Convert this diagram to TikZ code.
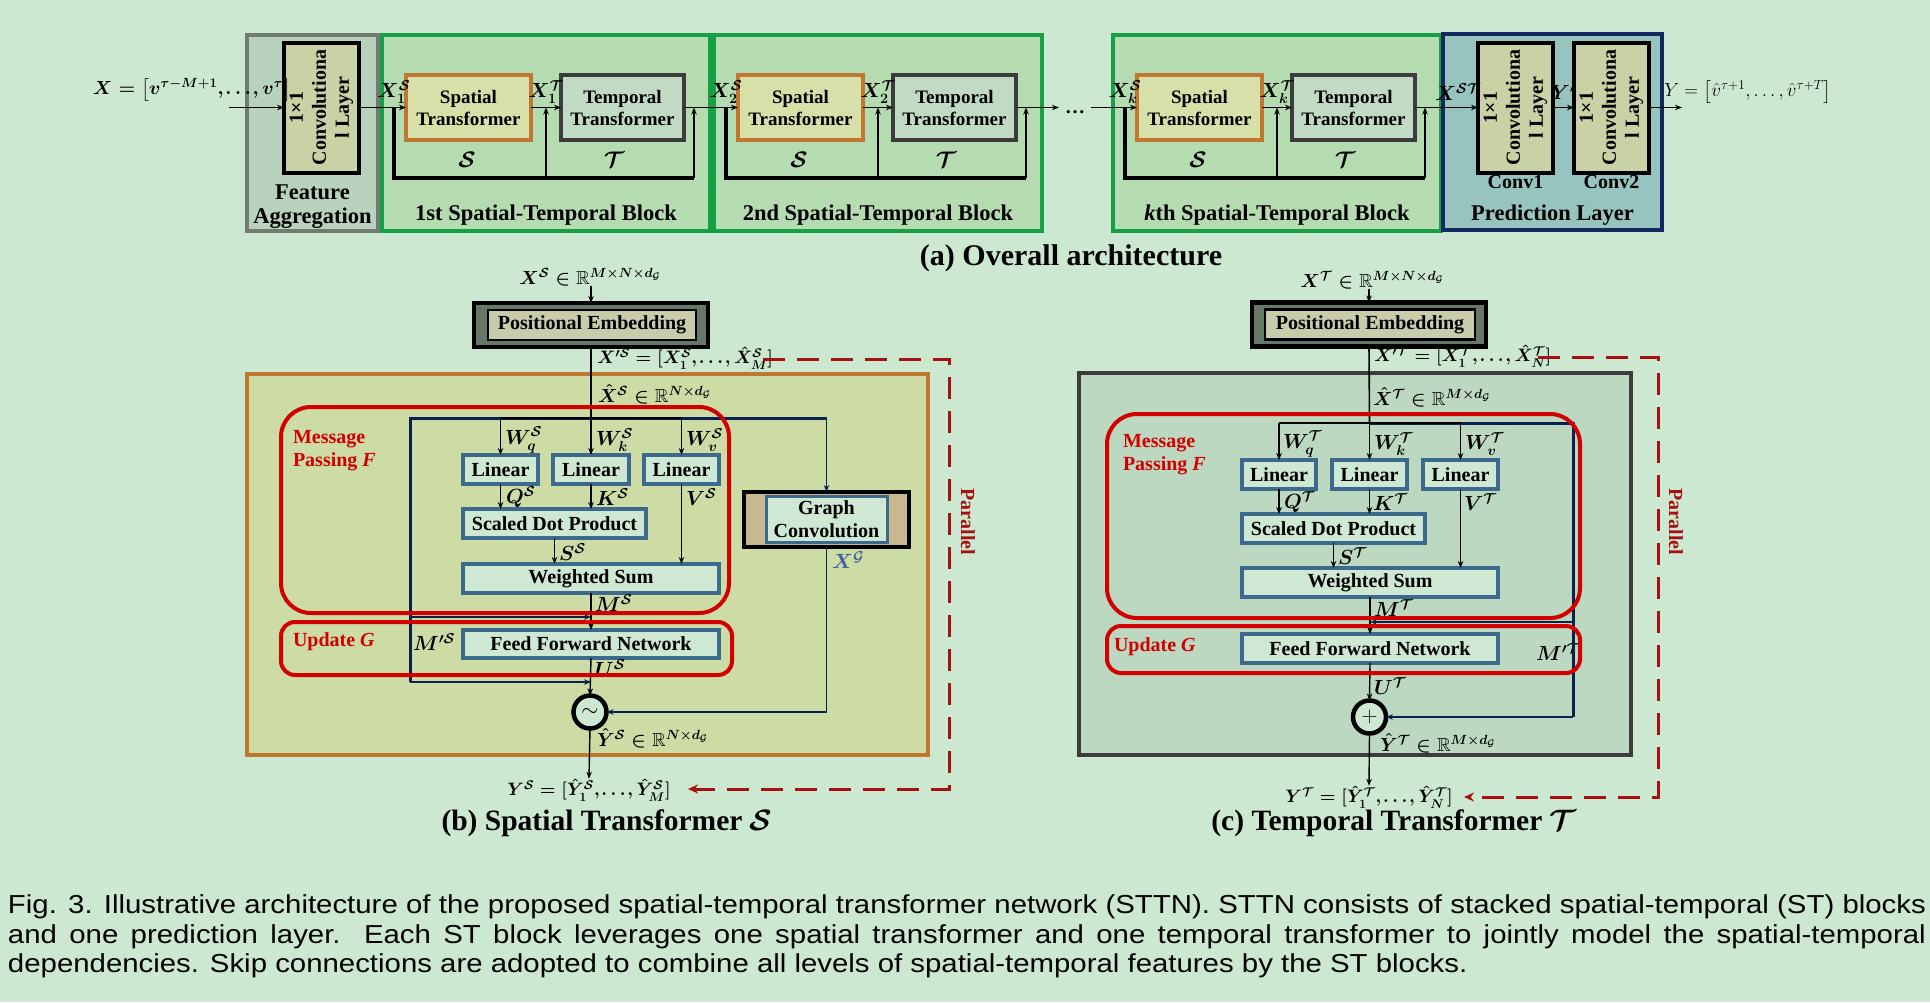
\RequirePackage{fix-cm}
\documentclass[tikz,border=0pt]{standalone}
\usepackage{amsmath,amssymb}
\usepackage{fontspec}
\setmainfont{Liberation Serif}
\newfontfamily\capfont{Liberation Sans}[FakeStretch=1.13]
\usetikzlibrary{arrows.meta}

\definecolor{bgc}{RGB}{205,232,208}
\definecolor{blockfill}{RGB}{181,219,176}
\definecolor{blockc}{RGB}{22,160,70}
\definecolor{fafill}{RGB}{184,210,190}
\definecolor{fac}{RGB}{112,124,112}
\definecolor{convfill}{RGB}{200,210,165}
\definecolor{sfill}{RGB}{214,224,168}
\definecolor{sborder}{RGB}{192,120,48}
\definecolor{tfill}{RGB}{192,218,196}
\definecolor{tborder}{RGB}{60,60,60}
\definecolor{predfill}{RGB}{152,196,192}
\definecolor{predc}{RGB}{20,40,96}
\definecolor{spfill}{RGB}{204,220,164}
\definecolor{tpfill}{RGB}{188,216,192}
\definecolor{linfill}{RGB}{206,232,212}
\definecolor{linborder}{RGB}{60,106,140}
\definecolor{redc}{RGB}{210,0,0}
\definecolor{navyc}{RGB}{10,32,80}
\definecolor{dashc}{RGB}{165,16,16}
\definecolor{posouter}{RGB}{104,120,104}
\definecolor{posinner}{RGB}{200,204,170}
\definecolor{gcfill}{RGB}{200,184,144}
\definecolor{xgblue}{RGB}{58,96,160}

% compact ellipsis for the bracketed sequences
\newcommand{\ddd}{\mkern-1.5mu\ldots\mkern-1.5mu}

\tikzset{
  every node/.append style={inner sep=0pt, outer sep=0pt},
  f18/.style={font=\fontsize{18}{21}\selectfont\bfseries\boldmath},
  f19/.style={font=\fontsize{19}{22}\selectfont\bfseries\boldmath},
  f20/.style={font=\fontsize{20}{23}\selectfont\bfseries\boldmath},
  f21/.style={font=\fontsize{20.5}{24}\selectfont\bfseries\boldmath},
  f22/.style={font=\fontsize{22.5}{26}\selectfont\bfseries\boldmath},
  f30/.style={font=\fontsize{29.5}{33}\selectfont\bfseries\boldmath},
  capf/.style={font=\capfont\fontsize{26}{30}\selectfont},
  redtxt/.style={f20, text=redc, align=left},
  arr/.style={draw=black, line width=1.4pt, -{Stealth[length=7pt,width=5.5pt]}},
  mainline/.style={draw=black, line width=1.6pt},
  navyarr/.style={draw=navyc, line width=1.5pt, -{Stealth[length=7pt,width=5.5pt]}},
  navythick/.style={draw=navyc, line width=3pt},
  skipline/.style={draw=black, line width=4pt},
  dashline/.style={draw=dashc, line width=3pt, dash pattern=on 22pt off 12pt},
  dasharr/.style={dashline, -{Stealth[length=10pt,width=9pt]}},
  fabox/.style={draw=fac, fill=fafill, line width=3.5pt, minimum width=131pt, minimum height=196pt},
  blockbox/.style={draw=blockc, fill=blockfill, line width=3.5pt, minimum width=328pt, minimum height=196pt},
  predbox/.style={draw=predc, fill=predfill, line width=3.5pt, minimum width=219pt, minimum height=196pt},
  sbox/.style={draw=sborder, fill=sfill, line width=3.5pt, minimum width=125pt, minimum height=65pt, align=center, f19},
  tbox/.style={draw=tborder, fill=tfill, line width=3.5pt, minimum width=123pt, minimum height=65pt, align=center, f19},
  convbox/.style={draw=black, fill=convfill, line width=4pt, minimum width=75pt, minimum height=130pt},
  convtxt/.style={rotate=90, align=center, font=\fontsize{20}{23}\selectfont\bfseries},
  linbox/.style={draw=linborder, fill=linfill, line width=3.5pt, minimum height=29pt, f20},
  peouter/.style={draw=black, fill=posouter, line width=4.5pt, minimum width=234pt, minimum height=44pt},
  peinner/.style={draw=black, fill=posinner, line width=2.5pt, minimum width=208pt, minimum height=30pt, f20},
  redbox/.style={draw=redc, line width=4pt},
  circ/.style={circle, draw=black, fill=linfill, line width=4.5pt, minimum size=33pt, font=\fontsize{22}{22}\selectfont},
  lab/.style={f21, anchor=west},
  parlab/.style={f20, text=dashc, rotate=-90},
}

% one spatial-temporal block of the stack: #1 left edge, #2 name, #3 index, #4 title
\newcommand{\stblock}[4]{%
  \node[blockbox] (#2) at ({#1+164},133) {};
  \node[sbox] (#2s) at ({#1+86.5},107.5) {Spatial\\Transformer};
  \node[tbox] (#2t) at ({#1+240.5},107.5) {Temporal\\Transformer};
  \node[f22] (#2n) at ({#1+164},215) {#4};
  \node[f22] (#2ls) at ({#1+85},160) {$\mathcal{S}$};
  \node[f22] (#2lt) at ({#1+232},160) {$\mathcal{T}$};
  \node[f21] (#2xs) at ({#1+12},92) {$X^{\mathcal{S}}_{#3}$};
  \node[f21] (#2xt) at ({#1+164},92) {$X^{\mathcal{T}}_{#3}$};
  \coordinate (#2a) at ({#1+12},107.5);
  \coordinate (#2b) at ({#1+12},178);
  \coordinate (#2c) at ({#1+312},178);
  \coordinate (#2m) at ({#1+164},178);
  \draw[skipline, line join=miter] (#2a) -- (#2b) -- (#2c);
  \draw[arr] (#2c) -- (#2c |- #2t.east);
  \draw[arr] (#2m) -- (#2m |- #2s.east);
  \draw[arr] (#2s.east) -- (#2t.west);
}

\begin{document}
\begin{tikzpicture}[x=1pt,y=-1pt]
\path[use as bounding box, fill=bgc] (0,0) rectangle (1930,1002);

% ===================== (a) overall architecture =====================
\node[fabox] (fa) at (312.5,133) {};
\node[convbox] (fac) at (321.5,107.5) {};
\node[convtxt] (factxt) at (fac) {1×1\\Convolutiona\\l Layer};
\node[f22] (fat1) at (312.5,192) {Feature};
\node[f22] (fat2) at (312.5,218) {Aggregation};
\node[f19] (xin) at (192,90) {$X=\big[v^{\tau-M+1},\ddd,v^{\tau}\big]$};
\coordinate (inpt) at (229,107.5);
\draw[arr] (inpt) -- (fac.west);

\stblock{382}{b1}{1}{1st Spatial-Temporal Block}
\stblock{714}{b2}{2}{2nd Spatial-Temporal Block}
\stblock{1113}{bk}{k}{\textit{k}th Spatial-Temporal Block}

\node[predbox] (pl) at (1552.5,132) {};
\node[convbox] (p1) at (1515.5,107.5) {};
\node[convtxt] (p1txt) at (p1) {1×1\\Convolutiona\\l Layer};
\node[convbox] (p2) at (1611.5,107.5) {};
\node[convtxt] (p2txt) at (p2) {1×1\\Convolutiona\\l Layer};
\node[f20] (pc1) at (1515.5,182) {Conv1};
\node[f20] (pc2) at (1611.5,182) {Conv2};
\node[f22] (pln) at (1552.5,215) {Prediction Layer};
\node[f21] (xst) at (1458,92) {$X^{\mathcal{S}\mathcal{T}}$};
\node[f21] (yp) at (1563,92) {$Y'$};
\node[font=\fontsize{19}{22}\selectfont] (yout) at (1748,92) {$Y=\big[\hat{v}^{\tau+1},\dots,\hat{v}^{\tau+T}\big]$};
\coordinate (outpt) at (1682,107.5);

\draw[arr] (fac.east) -- (b1s.west);
\draw[arr] (b1t.east) -- (b2s.west);
\node[f20, inner xsep=6pt, anchor=base] (dots) at (1075,113) {\dots};
\draw[arr] (b2t.east) -- (dots.west |- b2t.east);
\draw[arr] (dots.east |- bks.west) -- (bks.west);
\draw[arr] (bkt.east) -- (p1.west);
\draw[arr] (p1.east) -- (p2.west);
\draw[arr] (p2.east) -- (outpt);

\node[font=\fontsize{30}{33}\selectfont\bfseries] (capa) at (1071,258) {(a) Overall architecture};

% ===================== (b) spatial transformer =====================
\node[f19] (xsb) at (590,277) {$X^{\mathcal{S}}\in\mathbb{R}^{M\times N\times d_{\mathcal{G}}}$};
\node[peouter] (peb) at (591,325) {};
\node[peinner] (pebi) at (592,325) {Positional Embedding};
\draw[arr] (peb.north |- xsb.south) -- (peb.north);
\node[draw=sborder, fill=spfill, line width=3.5pt, minimum width=681pt, minimum height=381pt] (spb) at (587.5,564.5) {};

\node[linbox, minimum width=75pt] (lb1) at (500.5,469.5) {Linear};
\node[linbox, minimum width=76pt] (lb2) at (591,469.5) {Linear};
\node[linbox, minimum width=75pt] (lb3) at (681.5,469.5) {Linear};
\node[linbox, minimum width=183pt] (sdpb) at (554.5,523.5) {Scaled Dot Product};
\node[linbox, minimum width=256pt] (wsb) at (591,578.5) {Weighted Sum};
\node[linbox, minimum width=256pt, minimum height=28pt] (ffnb) at (591,644) {Feed Forward Network};
\node[draw=black, fill=gcfill, line width=4pt, minimum width=165pt, minimum height=55pt] (gcb) at (826.5,519.5) {};
\node[draw=linborder, fill=linfill, line width=3pt, minimum width=121pt, minimum height=46pt, align=center, f20] (gcbi) at (826.5,519.5) {Graph\\Convolution};
\node[circ] (sumb) at (590,712) {$\sim$};

\node[f18, anchor=west] (xpb) at (597,358) {$X'^{\mathcal{S}}=[\hat{X}^{\mathcal{S}}_1,\ddd,\hat{X}^{\mathcal{S}}_M]$};
\node[f19, anchor=west] (xhb) at (598,394) {$\hat{X}^{\mathcal{S}}\in\mathbb{R}^{N\times d_{\mathcal{G}}}$};
\node[lab] (wqb) at (505,440) {$W^{\mathcal{S}}_q$};
\node[lab] (wkb) at (596,440) {$W^{\mathcal{S}}_k$};
\node[lab] (wvb) at (686,440) {$W^{\mathcal{S}}_v$};
\node[lab] (qb) at (506,497) {$Q^{\mathcal{S}}$};
\node[lab] (kb) at (596,497) {$K^{\mathcal{S}}$};
\node[lab] (vb) at (686,497) {$V^{\mathcal{S}}$};
\node[lab] (ssb) at (559,552) {$S^{\mathcal{S}}$};
\node[lab] (msb) at (595,603) {$M^{\mathcal{S}}$};
\node[lab] (mpsb) at (413,642) {$M'^{\mathcal{S}}$};
\node[lab] (usb) at (595,668) {$U^{\mathcal{S}}$};
\node[lab, text=xgblue] (xgb) at (832,560) {$X^{\mathcal{G}}$};
\node[f19, anchor=west] (yhb) at (597,738) {$\hat{Y}^{\mathcal{S}}\in\mathbb{R}^{N\times d_{\mathcal{G}}}$};
\node[f18] (ysb) at (589,790) {$Y^{\mathcal{S}}=[\hat{Y}^{\mathcal{S}}_1,\ddd,\hat{Y}^{\mathcal{S}}_M]$};

\coordinate (jb) at (591,418);
\coordinate (nbl) at (410,418);
\coordinate (nbr) at (826.5,418);
\coordinate (nb1) at (410,617);
\coordinate (nb2) at (410,682);
\coordinate (gcend) at (826.5,712);
\draw[mainline] (peb.south) -- (jb);
\draw[navythick] (nbr) -- (nbl) -- (nb2);
\draw[navyarr] (nbr) -- (gcb.north);
\draw[navyarr] (nb1) -- (nb1 -| wsb.south);
\draw[navyarr] (nb2) -- (nb2 -| ffnb.south);
\draw[mainline] (jb -| lb1.north) -- (jb -| lb3.north);
\draw[arr] (jb -| lb1.north) -- (lb1.north);
\draw[arr] (jb) -- (lb2.north);
\draw[arr] (jb -| lb3.north) -- (lb3.north);
\draw[arr] (lb1.south) -- (lb1.south |- sdpb.north);
\draw[arr] (lb2.south) -- (lb2.south |- sdpb.north);
\draw[arr] (lb3.south) -- (lb3.south |- wsb.north);
\draw[arr] (sdpb.south) -- (sdpb.south |- wsb.north);
\draw[arr] (wsb.south) -- (ffnb.north);
\draw[arr] (ffnb.south) -- (sumb.north);
\draw[navyarr] (gcb.south) -- (gcend) -- (sumb.east);
\draw[arr] (sumb.south) -- (ysb.north);

\node[redbox, minimum width=448pt, minimum height=206pt, rounded corners=30pt] (mpb) at (505,510) {};
\node[redbox, minimum width=451pt, minimum height=53pt, rounded corners=14pt] (upb) at (506.5,648.5) {};
\node[redtxt, anchor=west] (mpbt) at (293,451) {Message\\Passing \textit{F}};
\node[redtxt, anchor=west] (upbt) at (293,642) {Update \textit{G}};

\coordinate (db1) at (763,359);
\coordinate (db2) at (949,359);
\coordinate (db3) at (949,789);
\coordinate (db4) at (688,789);
\draw[dasharr] (db1) -- (db2) -- (db3) -- (db4);
\node[parlab] (parb) at (968,522) {Parallel};

\node[f30] (capb) at (607,823) {(b) Spatial Transformer $\mathcal{S}$};

% ===================== (c) temporal transformer =====================
\node[f19] (xtc) at (1372,280) {$X^{\mathcal{T}}\in\mathbb{R}^{M\times N\times d_{\mathcal{G}}}$};
\node[peouter] (pec) at (1369,324.5) {};
\node[peinner, minimum width=210pt] (peci) at (1370,324.5) {Positional Embedding};
\draw[arr] (pec.north |- xtc.south) -- (pec.north);
\node[draw=tborder, fill=tpfill, line width=3.5pt, minimum width=552pt, minimum height=382pt] (tpc) at (1355,564) {};

\node[linbox, minimum width=74pt] (lc1) at (1279,474.5) {Linear};
\node[linbox, minimum width=75pt] (lc2) at (1369.5,474.5) {Linear};
\node[linbox, minimum width=75pt] (lc3) at (1460.5,474.5) {Linear};
\node[linbox, minimum width=183pt] (sdpc) at (1333.5,528.5) {Scaled Dot Product};
\node[linbox, minimum width=256pt] (wsc) at (1370,582.5) {Weighted Sum};
\node[linbox, minimum width=256pt] (ffnc) at (1370,648.5) {Feed Forward Network};
\node[circ] (sumc) at (1369.5,717) {$+$};

\node[f18, anchor=west] (xpc) at (1374,356) {$X'^{\mathcal{T}}=[\hat{X}^{\mathcal{T}}_1,\ddd,\hat{X}^{\mathcal{T}}_N]$};
\node[f19, anchor=west] (xhc) at (1373,397) {$\hat{X}^{\mathcal{T}}\in\mathbb{R}^{M\times d_{\mathcal{G}}}$};
\node[lab] (wqc) at (1283,444) {$W^{\mathcal{T}}_q$};
\node[lab] (wkc) at (1374,444) {$W^{\mathcal{T}}_k$};
\node[lab] (wvc) at (1465,444) {$W^{\mathcal{T}}_v$};
\node[lab] (qc) at (1284,502) {$Q^{\mathcal{T}}$};
\node[lab] (kc) at (1373,502) {$K^{\mathcal{T}}$};
\node[lab] (vc) at (1464,502) {$V^{\mathcal{T}}$};
\node[lab] (stc) at (1338,556) {$S^{\mathcal{T}}$};
\node[lab] (mtc) at (1374,608) {$M^{\mathcal{T}}$};
\node[lab] (mptc) at (1536,652) {$M'^{\mathcal{T}}$};
\node[lab] (utc) at (1374,686) {$U^{\mathcal{T}}$};
\node[f19, anchor=west] (yhc) at (1380,743) {$\hat{Y}^{\mathcal{T}}\in\mathbb{R}^{M\times d_{\mathcal{G}}}$};
\node[f18] (ytc) at (1369,797) {$Y^{\mathcal{T}}=[\hat{Y}^{\mathcal{T}}_1,\ddd,\hat{Y}^{\mathcal{T}}_N]$};

\coordinate (jc) at (1369.5,423);
\coordinate (ncr) at (1573,423);
\coordinate (nc1) at (1573,622);
\coordinate (nc2) at (1573,717);
\draw[mainline] (pec.south) -- (jc);
\draw[navythick] (jc) -- (ncr) -- (nc2);
\draw[navyarr] (nc2) -- (sumc.east);
\draw[navyarr] (nc1) -- (nc1 -| wsc.south);
\draw[mainline] (jc -| lc1.north) -- (jc -| lc3.north);
\draw[arr] (jc -| lc1.north) -- (lc1.north);
\draw[arr] (jc) -- (lc2.north);
\draw[arr] (jc -| lc3.north) -- (lc3.north);
\draw[arr] (lc1.south) -- (lc1.south |- sdpc.north);
\draw[arr] (lc2.south) -- (lc2.south |- sdpc.north);
\draw[arr] (lc3.south) -- (lc3.south |- wsc.north);
\draw[arr] (sdpc.south) -- (sdpc.south |- wsc.north);
\draw[arr] (wsc.south) -- (ffnc.north);
\draw[arr] (ffnc.south) -- (sumc.north);
\draw[arr] (sumc.south) -- (ytc.north);

\node[redbox, minimum width=473pt, minimum height=204pt, rounded corners=30pt] (mpc) at (1343.5,516) {};
\node[redbox, minimum width=473pt, minimum height=47pt, rounded corners=14pt] (upc) at (1343.5,649.5) {};
\node[redtxt, anchor=west] (mpct) at (1123,455) {Message\\Passing \textit{F}};
\node[redtxt, anchor=west] (upct) at (1114,647) {Update \textit{G}};

\coordinate (dc1) at (1538,357);
\coordinate (dc2) at (1658,357);
\coordinate (dc3) at (1658,797);
\coordinate (dc4) at (1464,797);
\draw[dasharr] (dc1) -- (dc2) -- (dc3) -- (dc4);
\node[parlab] (parc) at (1676,522) {Parallel};

\node[f30] (capc) at (1394,823) {(c) Temporal Transformer $\mathcal{T}$};

% ===================== figure caption =====================
\node[capf, anchor=west] (cap1) at (8,907) {\makebox[1918pt][s]{Fig. 3. Illustrative architecture of the proposed spatial-temporal transformer network (STTN). STTN consists of stacked spatial-temporal (ST) blocks}};
\node[capf, anchor=west] (cap2) at (8,937) {\makebox[1918pt][s]{and one prediction layer. Each ST block leverages one spatial transformer and one temporal transformer to jointly model the spatial-temporal}};
\node[capf, anchor=west] (cap3) at (8,966) {dependencies. Skip connections are adopted to combine all levels of spatial-temporal features by the ST blocks.};
\end{tikzpicture}
\end{document}
